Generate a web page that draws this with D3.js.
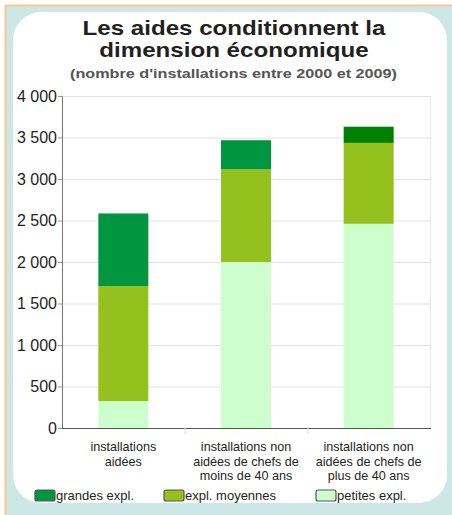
<!DOCTYPE html>
<html><head><meta charset="utf-8">
<script src="https://cdn.jsdelivr.net/npm/d3@7"></script>
<style>
html,body{margin:0;padding:0;background:#fff;}
svg{display:block;font-family:"Liberation Sans",Arial,sans-serif;}
</style></head>
<body>
<svg id="chart" width="452" height="515"></svg>
<script>
const categories = [
  ["installations", "aidées"],
  ["installations non", "aidées de chefs de", "moins de 40 ans"],
  ["installations non", "aidées de chefs de", "plus de 40 ans"]
];
const seriesNames = ["petites expl.", "expl. moyennes", "grandes expl."];
const petites  = [325, 2000, 2460];
const moyennes = [1385, 1117, 975];
const grandes  = [875, 350, 195];
const yTicks = [0, 500, 1000, 1500, 2000, 2500, 3000, 3500, 4000];
const title = ["Les aides conditionnent la", "dimension économique"];
const subtitle = "(nombre d'installations entre 2000 et 2009)";

const colors = {"petites expl.": "#ccffcc", "expl. moyennes": "#95c11f", "grandes expl.": "#009640"};
const topColorOverride = ["#009640", "#009640", "#008000"];

const svg = d3.select("#chart");

// frame
svg.append("rect").attr("x", 6).attr("y", 5).attr("width", 446).attr("height", 510).attr("fill", "#cde6e6");
svg.append("line").attr("x1", 5).attr("x2", 452).attr("y1", 5.5).attr("y2", 5.5).attr("stroke", "#fbc98e").attr("stroke-width", 2);
svg.append("line").attr("x1", 5.5).attr("x2", 5.5).attr("y1", 5).attr("y2", 515).attr("stroke", "#fbc98e").attr("stroke-width", 2);
svg.append("rect").attr("x", 13).attr("y", 12).attr("width", 434).attr("height", 491).attr("rx", 28).attr("ry", 28).attr("fill", "#fff");

// titles
svg.append("text").attr("transform", "translate(234,35) scale(1.16,1)").attr("text-anchor", "middle")
  .attr("font-size", 20.8).attr("font-weight", "bold").attr("fill", "#231f20").text(title[0]);
svg.append("text").attr("transform", "translate(234,56.5) scale(1.16,1)").attr("text-anchor", "middle")
  .attr("font-size", 20.8).attr("font-weight", "bold").attr("fill", "#231f20").text(title[1]);
svg.append("text").attr("transform", "translate(233.5,78) scale(1.2,1)").attr("text-anchor", "middle")
  .attr("font-size", 13.5).attr("font-weight", "bold").attr("fill", "#555").text(subtitle);

const x0 = 62, x1 = 430, yTop = 96, yBot = 428;
const x = d3.scaleBand().domain(d3.range(categories.length)).range([x0, x1]).paddingInner(0).paddingOuter(0);
const y = d3.scaleLinear().domain([0, 4000]).range([yBot, yTop]);

// gridlines
svg.append("g").selectAll("line").data(yTicks.filter(d => d > 0)).join("line")
  .attr("x1", x0).attr("x2", x1).attr("y1", d => y(d) + 0.5).attr("y2", d => y(d) + 0.5)
  .attr("stroke", "#e3e3e3").attr("stroke-width", 1);
svg.append("line").attr("x1", x1 + 0.5).attr("x2", x1 + 0.5).attr("y1", yTop).attr("y2", yBot)
  .attr("stroke", "#e8e8e8");

// stacked bars
const rows = categories.map((c, i) => ({i, "petites expl.": petites[i], "expl. moyennes": moyennes[i], "grandes expl.": grandes[i]}));
const stack = d3.stack().keys(seriesNames)(rows);
const barW = 50;
svg.append("g").selectAll("g").data(stack).join("g")
  .each(function(layer) {
    d3.select(this).selectAll("rect").data(layer).join("rect")
      .attr("x", (d, j) => x(j) + x.bandwidth() / 2 - barW / 2)
      .attr("width", barW)
      .attr("y", d => y(d[1]))
      .attr("height", d => y(d[0]) - y(d[1]))
      .attr("fill", (d, j) => layer.key === "grandes expl." ? topColorOverride[j] : colors[layer.key]);
  });

// y axis
const yAxis = d3.axisLeft(y).tickValues(yTicks).tickSize(4).tickFormat(d => d3.format(",")(d).replace(/,/g, " "));
const gy = svg.append("g").attr("transform", `translate(${x0},0)`).call(yAxis);
gy.select(".domain").attr("stroke", "#777");
gy.selectAll(".tick line").attr("stroke", "#999");
gy.selectAll(".tick text").attr("font-size", 16).attr("fill", "#231f20").attr("x", -5)
  .attr("font-family", "'Liberation Sans',Arial,sans-serif");

// x axis
svg.append("line").attr("x1", x0).attr("x2", x1 + 1).attr("y1", yBot + 0.5).attr("y2", yBot + 0.5).attr("stroke", "#555").attr("stroke-width", 1.2);
svg.append("g").selectAll("line").data(d3.range(1, categories.length)).join("line")
  .attr("x1", d => x(d) + 0.5).attr("x2", d => x(d) + 0.5).attr("y1", yBot).attr("y2", yBot + 6)
  .attr("stroke", "#ddd");

const xl = svg.append("g").selectAll("text").data(categories).join("text")
  .attr("text-anchor", "middle").attr("font-size", 12.6).attr("fill", "#231f20")
  .attr("x", (d, i) => x(i) + x.bandwidth() / 2).attr("y", 451);
xl.selectAll("tspan").data(d => d).join("tspan")
  .attr("x", function() { return d3.select(this.parentNode).attr("x"); })
  .attr("dy", (d, k) => k === 0 ? 0 : 14.5).text(d => d);

// legend
const legendItems = [
  {name: "grandes expl.", sx: 35},
  {name: "expl. moyennes", sx: 164},
  {name: "petites expl.", sx: 316}
];
const lg = svg.append("g").selectAll("g").data(legendItems).join("g");
lg.append("rect").attr("x", d => d.sx).attr("y", 490).attr("width", 20).attr("height", 11).attr("rx", 2)
  .attr("fill", d => colors[d.name]).attr("stroke", "#555").attr("stroke-width", 1.2);
lg.append("text").attr("x", d => d.sx + 21).attr("y", 500).attr("font-size", 13).attr("fill", "#231f20").text(d => d.name);
</script>
</body></html>
